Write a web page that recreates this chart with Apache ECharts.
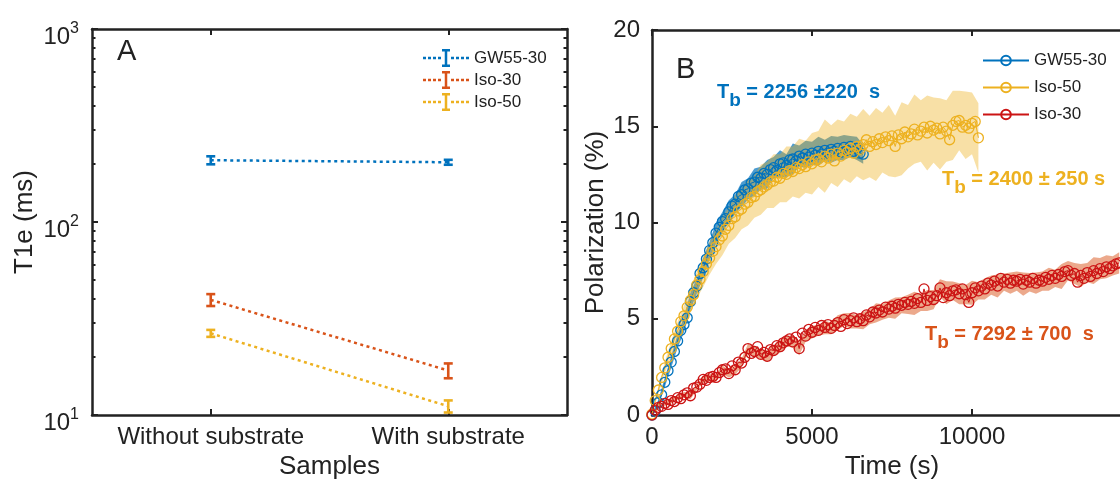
<!DOCTYPE html>
<html><head><meta charset="utf-8">
<script src="https://cdn.jsdelivr.net/npm/echarts@6/dist/echarts.min.js"></script>
<style>html,body{margin:0;background:#fff}#c{width:1120px;height:480px}</style>
</head><body><div id="c"></div>
<script>
// ---------- Panel A data ----------
const samples = ['Without substrate', 'With substrate'];
const aXTicks = [1, 2];
const aSeriesNames = ['GW55-30', 'Iso-30', 'Iso-50'];
const t1eGW = [209, 204];
const t1eGWErr = [10, 6];
const t1eIso30 = [39.5, 17.0];
const t1eIso30Err = [2.8, 1.5];
const t1eIso50 = [26.5, 11.1];
const t1eIso50Err = [1.1, 0.8];
const aMinorTicks = [20, 30, 40, 50, 60, 70, 80, 90, 200, 300, 400, 500, 600, 700, 800, 900];

// ---------- Panel B data ----------
const bSeriesNames = ['GW55-30 ', 'Iso-50 ', 'Iso-30 '];
const bXTickLabels = [0, 5000, 10000];
const T_STEP = 100;      // s between measured points
const BAND_STEP = 200;   // s between band samples
const gwP = [0.00,0.20,0.65,1.05,1.70,2.30,2.75,3.30,3.85,4.40,
 4.70,5.05,5.90,6.35,6.70,7.35,7.65,8.10,8.55,8.95,
 9.45,9.75,10.05,10.20,10.55,10.85,10.95,11.35,11.45,11.70,
 11.75,12.05,12.10,12.35,12.30,12.55,12.50,12.75,12.85,12.70,
 13.05,13.10,12.95,13.25,13.30,13.20,13.45,13.35,13.55,13.40,
 13.60,13.50,13.70,13.55,13.75,13.60,13.80,13.70,13.85,13.65,
 13.90,13.75,13.95,13.70,13.85,13.60,13.55];
const iso50P = [0.05,0.75,1.30,1.95,2.45,3.00,3.45,3.95,4.35,4.85,
 5.15,5.60,5.95,6.25,6.75,7.05,7.45,7.85,8.15,8.50,
 8.75,9.10,9.30,9.65,9.85,10.20,10.30,10.60,10.70,10.95,
 11.05,11.30,11.35,11.60,11.70,11.85,11.95,12.10,12.15,12.35,
 12.30,12.55,12.50,12.70,12.65,12.85,12.80,13.00,12.90,13.15,
 13.05,13.25,13.30,13.15,13.45,13.35,13.55,13.20,13.60,13.45,
 13.75,13.65,13.85,13.60,13.95,13.80,14.05,14.30,13.95,14.20,
 14.05,14.35,14.15,14.45,14.25,14.50,13.95,14.55,14.35,14.70,
 14.45,14.60,14.85,14.55,14.75,14.95,14.65,15.00,14.80,14.90,
 14.60,14.95,14.75,14.30,15.05,15.25,15.30,14.95,15.05,14.90,
 15.15,15.25,14.40];
const iso30P = [0.00,0.25,0.40,0.45,0.60,0.55,0.75,0.70,0.90,0.85,
 1.05,1.15,1.00,1.40,1.45,1.60,1.85,1.80,1.95,2.00,
 1.95,2.20,2.35,2.40,2.15,2.55,2.35,2.75,2.70,3.00,
 3.45,3.20,3.30,3.55,3.15,3.25,3.05,3.40,3.35,3.60,
 3.55,3.75,3.85,3.95,3.80,4.05,3.45,4.25,4.10,4.45,
 4.30,4.55,4.40,4.65,4.55,4.70,4.50,4.65,4.80,4.60,
 4.95,4.75,4.90,5.05,4.85,5.00,4.90,5.20,5.10,5.35,
 5.30,5.45,5.35,5.60,5.50,5.65,5.55,5.75,5.70,5.85,
 5.75,5.90,5.80,6.05,5.85,6.55,5.95,6.15,6.00,6.20,
 6.60,6.10,6.35,6.20,6.45,6.50,6.30,6.55,6.25,5.85,
 6.35,6.60,6.45,6.70,6.55,6.85,6.75,6.95,6.70,7.10,
 6.90,7.05,6.85,7.00,6.95,7.05,6.80,7.00,6.90,7.10,
 6.85,7.00,6.95,7.15,7.05,7.25,7.10,7.30,7.20,7.45,
 7.50,7.25,7.35,6.90,7.25,7.10,7.40,7.20,7.50,7.35,
 7.60,7.45,7.70,7.60,7.75,7.85,7.90];
const gwHW = [0.05,0.15,0.25,0.30,0.35,0.40,0.45,0.40,0.50,0.45,
 0.55,0.50,0.60,0.50,0.65,0.55,0.70,0.60,0.75,0.55,
 0.70,0.60,0.80,0.55,0.70,0.60,0.75,0.55,0.70,0.60,
 0.65,0.55,0.60,0.50];
const iso50HW = [0.05,0.20,0.30,0.40,0.50,0.55,0.65,0.70,0.80,0.85,
 0.90,1.00,0.95,1.10,1.05,1.20,1.10,1.30,1.20,1.40,
 1.25,1.45,1.30,1.55,1.35,1.60,1.45,1.90,1.50,1.75,
 1.50,1.80,1.55,1.85,1.60,1.90,1.55,1.85,1.60,1.90,
 1.65,1.80,1.60,1.95,1.70,1.85,1.60,1.80,1.55,1.75,
 1.60,1.80];
const iso30HW = [0.05,0.10,0.12,0.15,0.12,0.15,0.18,0.15,0.20,0.18,0.20,0.22,0.20,0.25,0.22,
 0.25,0.28,0.25,0.30,0.27,0.32,0.28,0.30,0.35,0.30,0.33,0.28,0.35,0.30,0.38,
 0.33,0.40,0.35,0.45,0.38,0.50,0.40,0.45,0.55,0.42,0.50,0.60,0.45,0.55,0.50,
 0.45,0.60,0.48,0.55,0.50,0.62,0.45,0.55,0.50,0.60,0.45,0.55,0.50,0.60,0.48,
 0.55,0.50,0.60,0.45,0.65,0.50,0.55,0.60,0.50,0.70,0.55,0.60,0.50,0.55];

// ---------- styling ----------
const FONT = 'Liberation Sans';
const INK = '#222';
const BLUE = '#0072BD', ORANGE = '#D95319', YELLOW = '#EDB120', RED = '#CC1414';
const axisLineStyle = { color: INK, width: 2.5 };
const tickStyle = { color: INK, width: 2 };

const ebIcon = 'path://M0 7.75h3v2.5h-3zM5 7.75h3v2.5h-3zM10 7.75h3v2.5h-3zM15 7.75h3v2.5h-3z' +
  'M28 7.75h3v2.5h-3zM33 7.75h3v2.5h-3zM38 7.75h3v2.5h-3zM43 7.75h3v2.5h-3z' +
  'M21.75 0h2.5v18h-2.5zM19 0h8v2.5h-8zM19 15.5h8v2.5h-8z';

function pairs(vals, step) { return vals.map((v, i) => [i * step, v]); }

function aLine(name, vals, color) {
  return { type: 'line', name, xAxisIndex: 0, yAxisIndex: 0, color,
    data: vals.map((v, i) => [aXTicks[i], v]), symbol: 'none', silent: true,
    lineStyle: { color, width: 2.5, type: [3, 3.5] }, z: 3 };
}
function aErr(name, vals, errs, color) {
  return { type: 'custom', name, xAxisIndex: 0, yAxisIndex: 0, silent: true, z: 4,
    data: vals.map((v, i) => [aXTicks[i], v, errs[i]]),
    renderItem(params, api) {
      const x = api.value(0), y = api.value(1), e = api.value(2);
      const top = api.coord([x, y + e]), bot = api.coord([x, y - e]);
      const cw = 4.5;
      const st = { stroke: color, lineWidth: 2.6 };
      return { type: 'group', children: [
        { type: 'line', shape: { x1: top[0], y1: top[1], x2: bot[0], y2: bot[1] }, style: st },
        { type: 'line', shape: { x1: top[0] - cw, y1: top[1], x2: top[0] + cw, y2: top[1] }, style: st },
        { type: 'line', shape: { x1: bot[0] - cw, y1: bot[1], x2: bot[0] + cw, y2: bot[1] }, style: st }
      ] };
    } };
}
function band(name, P, HW, fill) {
  return { type: 'custom', name, xAxisIndex: 2, yAxisIndex: 2, silent: true, clip: true,
    data: [[0, 0]],
    renderItem(params, api) {
      const up = [], lo = [];
      const r = BAND_STEP / T_STEP;
      HW.forEach((h, i) => {
        const t = i * BAND_STEP, p = P[i * r];
        up.push(api.coord([t, p + h]));
        lo.push(api.coord([t, p - h]));
      });
      return { type: 'polygon', shape: { points: up.concat(lo.reverse()) }, style: { fill } };
    } };
}
function bLine(name, P, color) {
  return { type: 'line', name, xAxisIndex: 2, yAxisIndex: 2, color, silent: true,
    data: pairs(P, T_STEP), symbol: 'circle', symbolSize: 10, showAllSymbol: true,
    itemStyle: { color: 'rgba(255,255,255,0)', borderColor: color, borderWidth: 1.3 },
    lineStyle: { color, width: 1 } };
}
function tbLabel(x, y, rest, color) {
  const f = 'bold 20px "' + FONT + '"';
  return { type: 'group', x, y, silent: true, children: [
    { type: 'text', x: 0, y: 0, style: { text: 'T', font: f, fill: color, verticalAlign: 'top' } },
    { type: 'text', x: 12.3, y: 9, style: { text: 'b', font: 'bold 19px "' + FONT + '"', fill: color, verticalAlign: 'top' } },
    { type: 'text', x: 23.8, y: 0, style: { text: rest, font: f, fill: color, verticalAlign: 'top' } }
  ] };
}

const logLabelRich = {
  b: { fontSize: 24, lineHeight: 24, verticalAlign: 'bottom', color: INK, fontFamily: FONT },
  s: { fontSize: 16, lineHeight: 40, color: INK, fontFamily: FONT }
};
// minor ticks of the log axis drawn on a linear axis in log10 space (same mapping)
const minorLogAxis = (pos) => ({
  gridIndex: 0, type: 'value', min: 1, max: 3, position: pos,
  axisLine: { show: false },
  axisTick: { show: true, inside: true, length: 3.5, lineStyle: tickStyle, customValues: aMinorTicks.map(Math.log10) },
  axisLabel: { show: false }, splitLine: { show: false } });

const option = {
  animation: false,
  backgroundColor: '#fff',
  textStyle: { fontFamily: FONT },
  grid: [
    { left: 92, top: 29, right: 553, bottom: 65, outerBoundsMode: 'none', containLabel: false },
    { left: 652, top: 30, right: -12, bottom: 65, outerBoundsMode: 'none', containLabel: false }
  ],
  xAxis: [
    { gridIndex: 0, type: 'value', min: 0.5, max: 2.5, position: 'bottom',
      axisLine: { onZero: false, lineStyle: axisLineStyle },
      axisTick: { inside: true, length: 6, lineStyle: tickStyle, customValues: aXTicks },
      axisLabel: { customValues: aXTicks, formatter: v => samples[Math.round(v) - 1], fontSize: 24, color: INK, margin: 10 },
      splitLine: { show: false },
      name: 'Samples', nameLocation: 'middle', nameGap: 38, nameTextStyle: { fontSize: 26, color: INK } },
    { gridIndex: 0, type: 'value', min: 0.5, max: 2.5, position: 'top',
      axisLine: { onZero: false, lineStyle: axisLineStyle },
      axisTick: { inside: true, length: 6, lineStyle: tickStyle, customValues: aXTicks },
      axisLabel: { show: false }, splitLine: { show: false } },
    { gridIndex: 1, type: 'value', min: 0, max: 15000, interval: 5000, position: 'bottom',
      axisLine: { onZero: false, lineStyle: axisLineStyle },
      axisTick: { inside: true, length: 6, lineStyle: tickStyle },
      axisLabel: { customValues: bXTickLabels, formatter: v => String(v), fontSize: 24, color: INK, margin: 10 },
      splitLine: { show: false },
      name: 'Time (s)', nameLocation: 'middle', nameGap: 38, nameTextStyle: { fontSize: 26, color: INK } },
    { gridIndex: 1, type: 'value', min: 0, max: 15000, interval: 5000, position: 'top',
      axisLine: { onZero: false, lineStyle: axisLineStyle },
      axisTick: { inside: true, length: 6, lineStyle: tickStyle },
      axisLabel: { show: false }, splitLine: { show: false } }
  ],
  yAxis: [
    { gridIndex: 0, type: 'log', logBase: 10, min: 10, max: 1000, position: 'left',
      axisLine: { show: true, lineStyle: axisLineStyle },
      axisTick: { show: true, inside: true, length: 6, lineStyle: tickStyle },
      axisLabel: { margin: 13, formatter: v => '{b|10}{s|' + Math.round(Math.log10(v)) + '}', rich: logLabelRich },
      splitLine: { show: false },
      name: 'T1e (ms)', nameLocation: 'middle', nameGap: 54, nameTextStyle: { fontSize: 26, color: INK } },
    { gridIndex: 0, type: 'log', logBase: 10, min: 10, max: 1000, position: 'right',
      axisLine: { show: true, lineStyle: axisLineStyle },
      axisTick: { show: true, inside: true, length: 6, lineStyle: tickStyle },
      axisLabel: { show: false }, splitLine: { show: false } },
    { gridIndex: 1, type: 'value', min: 0, max: 20, interval: 5, position: 'left',
      axisLine: { show: true, onZero: false, lineStyle: axisLineStyle },
      axisTick: { show: true, inside: true, length: 6, lineStyle: tickStyle },
      axisLabel: { fontSize: 24, color: INK, margin: 12 },
      splitLine: { show: false },
      name: 'Polarization (%)', nameLocation: 'middle', nameGap: 43, nameTextStyle: { fontSize: 26, color: INK } },
    minorLogAxis('left'),
    minorLogAxis('right')
  ],
  legend: [
    { orient: 'vertical', left: 418, top: 44, itemWidth: 46, itemHeight: 18, itemGap: 4, selectedMode: false,
      data: aSeriesNames.map(n => ({ name: n, icon: ebIcon })),
      textStyle: { fontSize: 17, color: INK, fontFamily: FONT } },
    { orient: 'vertical', left: 977, top: 47, itemWidth: 46, itemHeight: 12, itemGap: 10, selectedMode: false,
      data: bSeriesNames,
      textStyle: { fontSize: 17, color: INK, fontFamily: FONT } }
  ],
  series: [
    aLine(aSeriesNames[0], t1eGW, BLUE), aErr('GW err', t1eGW, t1eGWErr, BLUE),
    aLine(aSeriesNames[1], t1eIso30, ORANGE), aErr('Iso30 err', t1eIso30, t1eIso30Err, ORANGE),
    aLine(aSeriesNames[2], t1eIso50, YELLOW), aErr('Iso50 err', t1eIso50, t1eIso50Err, YELLOW),
    band('GW band', gwP, gwHW, 'rgba(0,114,189,0.7)'),
    bLine(bSeriesNames[0], gwP, BLUE),
    band('Iso50 band', iso50P, iso50HW, 'rgba(237,177,32,0.4)'),
    bLine(bSeriesNames[1], iso50P, YELLOW),
    band('Iso30 band', iso30P, iso30HW, 'rgba(217,83,25,0.5)'),
    bLine(bSeriesNames[2], iso30P, RED)
  ],
  graphic: [
    { type: 'text', left: 117, top: 37, silent: true, style: { text: 'A', font: '29px "' + FONT + '"', fill: INK } },
    { type: 'text', left: 676, top: 55, silent: true, style: { text: 'B', font: '29px "' + FONT + '"', fill: INK } },
    tbLabel(717, 82, ' = 2256 \u00b1220  s', BLUE),
    tbLabel(942, 169, ' = 2400 \u00b1 250 s', YELLOW),
    tbLabel(925, 324, ' = 7292 \u00b1 700  s', ORANGE)
  ]
};
echarts.init(document.getElementById('c'), null, { renderer: 'canvas' }).setOption(option);
</script></body></html>
